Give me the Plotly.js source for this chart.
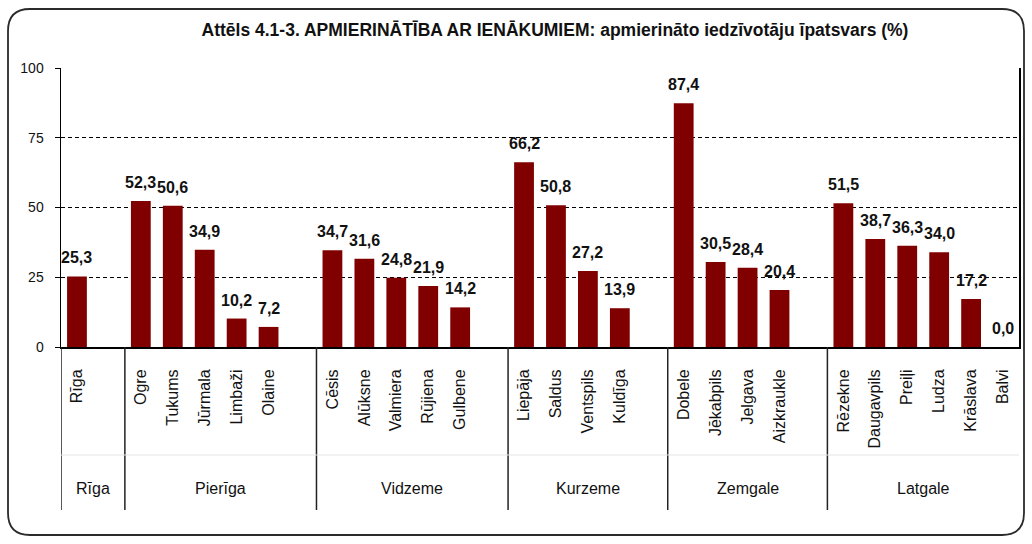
<!DOCTYPE html>
<html>
<head>
<meta charset="utf-8">
<script src="https://cdn.plot.ly/plotly-3.0.1.min.js"></script>
<style>
html,body{margin:0;padding:0;background:#fff;}
#chart{width:1032px;height:544px;}
</style>
</head>
<body>
<div id="chart"></div>
<script>
// ---- data ----
const regions = ["Rīga", "Pierīga", "Vidzeme", "Kurzeme", "Zemgale", "Latgale"];
const cities = ["Rīga",
  "Ogre", "Tukums", "Jūrmala", "Limbaži", "Olaine",
  "Cēsis", "Alūksne", "Valmiera", "Rūjiena", "Gulbene",
  "Liepāja", "Saldus", "Ventspils", "Kuldīga",
  "Dobele", "Jēkabpils", "Jelgava", "Aizkraukle",
  "Rēzekne", "Daugavpils", "Preiļi", "Ludza", "Krāslava", "Balvi"];
const cityRegion = ["Rīga",
  "Pierīga", "Pierīga", "Pierīga", "Pierīga", "Pierīga",
  "Vidzeme", "Vidzeme", "Vidzeme", "Vidzeme", "Vidzeme",
  "Kurzeme", "Kurzeme", "Kurzeme", "Kurzeme",
  "Zemgale", "Zemgale", "Zemgale", "Zemgale",
  "Latgale", "Latgale", "Latgale", "Latgale", "Latgale", "Latgale"];
const values = [25.3,
  52.3, 50.6, 34.9, 10.2, 7.2,
  34.7, 31.6, 24.8, 21.9, 14.2,
  66.2, 50.8, 27.2, 13.9,
  87.4, 30.5, 28.4, 20.4,
  51.5, 38.7, 36.3, 34.0, 17.2, 0.0];
const yTicks = [0, 25, 50, 75, 100];
const titleText = "Attēls 4.1-3. APMIERINĀTĪBA AR IENĀKUMIEM: apmierināto iedzīvotāju īpatsvars (%)";

// ---- slot positions: one empty slot after each region except the last ----
const pos = [];
let offset = 0;
for (let i = 0; i < cities.length; i++) {
  if (i > 0 && cityRegion[i] !== cityRegion[i - 1]) offset += 1;
  pos.push(i + offset);
}
const lastPos = pos[pos.length - 1];
const groupStart = {}, groupEnd = {};
regions.forEach(r => {
  const idx = pos.filter((p, i) => cityRegion[i] === r);
  groupStart[r] = Math.min(...idx) - 0.5;
  groupEnd[r] = Math.max(...idx) + 0.5 + (r === regions[regions.length - 1] ? 0 : 1);
});

const FONT = "Liberation Sans, Arial, sans-serif";
const labelText = values.map(v => v.toFixed(1).replace('.', ','));

const shapes = [];
// group dividers below axis
const dividerX = [-0.5].concat(regions.slice(0, -1).map(r => groupEnd[r]));
const yDivBottom = (347 - 510) / 279;
dividerX.forEach(x => shapes.push({
  type: 'line', xref: 'x', yref: 'paper', x0: x, x1: x, y0: 0, y1: yDivBottom,
  line: {color: '#222', width: 1.5}
}));
// faint horizontal separator
shapes.push({
  type: 'line', xref: 'x', yref: 'paper', x0: -0.5, x1: lastPos + 0.5,
  y0: (347 - 455) / 279, y1: (347 - 455) / 279,
  line: {color: '#e4e4e4', width: 1}
});
// rounded outer border
(function () {
  const W = 958, H = 279;
  const px = v => ((v - 61) / W).toFixed(5);
  const py = v => ((347 - v) / H).toFixed(5);
  const L = 8, R = 1024, T = 9, B = 535, rad = 22;
  const path = `M ${px(L + rad)} ${py(T)} L ${px(R - rad)} ${py(T)} Q ${px(R)} ${py(T)} ${px(R)} ${py(T + rad)} ` +
    `L ${px(R)} ${py(B - rad)} Q ${px(R)} ${py(B)} ${px(R - rad)} ${py(B)} ` +
    `L ${px(L + rad)} ${py(B)} Q ${px(L)} ${py(B)} ${px(L)} ${py(B - rad)} ` +
    `L ${px(L)} ${py(T + rad)} Q ${px(L)} ${py(T)} ${px(L + rad)} ${py(T)} Z`;
  shapes.push({type: 'path', xref: 'paper', yref: 'paper', path: path,
    line: {color: '#2a2a2a', width: 1.8}, fillcolor: 'rgba(0,0,0,0)', layer: 'below'});
})();

const annotations = [];
// value labels
values.forEach((v, i) => annotations.push({
  x: pos[i], y: v, xref: 'x', yref: 'y', text: labelText[i], showarrow: false,
  yanchor: 'bottom', yshift: 8,
  font: {family: FONT, size: 16, color: '#111', weight: 'bold'}
}));
// region labels
regions.forEach(r => annotations.push({
  x: (groupStart[r] + groupEnd[r]) / 2, y: (347 - 488) / 279, xref: 'x', yref: 'paper',
  text: r, showarrow: false, yanchor: 'middle',
  font: {family: FONT, size: 16, color: '#111'}
}));

const trace = {
  type: 'bar', x: pos, y: values, width: 0.62,
  marker: {color: '#800000', line: {width: 0}},
  hoverinfo: 'none', cliponaxis: false
};

const layout = {
  width: 1032, height: 544,
  margin: {l: 61, r: 13, t: 68, b: 197},
  paper_bgcolor: '#fff', plot_bgcolor: '#fff',
  showlegend: false,
  font: {family: FONT, color: '#111'},
  title: {
    text: '<b>' + titleText + '</b>',
    x: (555 - 61) / 958, xref: 'paper', xanchor: 'center',
    y: 1 - 30 / 544, yref: 'container', yanchor: 'middle',
    font: {family: FONT, size: 17.5, color: '#111'}
  },
  xaxis: {
    range: [-0.5, lastPos + 0.5],
    tickmode: 'array', tickvals: pos, ticktext: cities,
    tickangle: -90, ticks: '', ticklabelstandoff: 14,
    tickfont: {family: FONT, size: 16, color: '#111'},
    showline: true, linecolor: '#000', linewidth: 2,
    showgrid: false, zeroline: false, fixedrange: true
  },
  yaxis: {
    range: [0, 100],
    tickmode: 'array', tickvals: yTicks,
    ticks: 'outside', ticklen: 5, tickcolor: '#000', tickwidth: 1,
    ticklabelstandoff: 8,
    tickfont: {family: FONT, size: 14, color: '#111'},
    showline: true, linecolor: '#000', linewidth: 1.5, mirror: true,
    showgrid: true, gridcolor: '#000', gridwidth: 1, griddash: '4px,3px',
    zeroline: false, fixedrange: true
  },
  shapes: shapes,
  annotations: annotations
};

Plotly.newPlot('chart', [trace], layout, {displayModeBar: false, staticPlot: true});
</script>
</body>
</html>
